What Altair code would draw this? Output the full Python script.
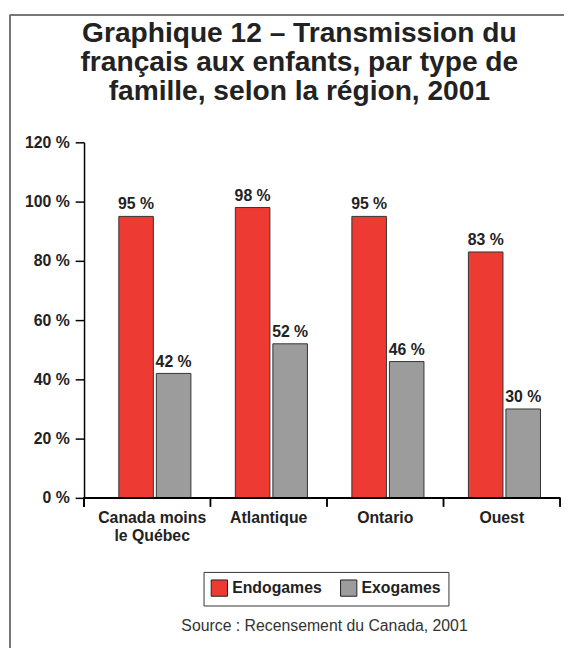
import altair as alt
import pandas as pd

regions = ["Canada moins le Québec", "Atlantique", "Ontario", "Ouest"]
types = ["Endogames", "Exogames"]
endogames = [95, 98, 95, 83]
exogames = [42, 52, 46, 30]
y_ticks = [0, 20, 40, 60, 80, 100, 120]
title_lines = ["Graphique 12 – Transmission du",
               "français aux enfants, par type de",
               "famille, selon la région, 2001"]
source = "Source : Recensement du Canada, 2001"
colors = ["#ED3A33", "#9C9C9C"]

rows = []
for i, r in enumerate(regions):
    rows.append({"region": r, "type": types[0], "value": endogames[i], "label": f"{endogames[i]} %"})
    rows.append({"region": r, "type": types[1], "value": exogames[i], "label": f"{exogames[i]} %"})
df = pd.DataFrame(rows)

W, H = 472, 360
FONT = "Liberation Sans"
TXT = "#222222"


def make_x(**kw):
    return alt.X(
        "region:N", sort=regions,
        scale=alt.Scale(paddingInner=0, paddingOuter=0),
        axis=alt.Axis(
            title=source, labelAngle=0, ticks=False, domain=False,
            labelExpr="datum.label == 'Canada moins le Québec' ? ['Canada moins', 'le Québec'] : datum.label",
            labelFont=FONT, labelFontSize=16, labelFontWeight="bold", labelColor=TXT,
            labelPadding=12, labelBaseline="top", labelLineHeight=18,
            titleFont=FONT, titleFontSize=16, titleFontWeight="normal", titleColor="#333333",
            titleX=233, titleY=134, titleAlign="center", titleBaseline="alphabetic",
        ),
        **kw,
    )


xoff = alt.XOffset("type:N", sort=types,
                   scale=alt.Scale(paddingInner=0.0789, paddingOuter=0.592, align=0.56))
y = alt.Y("value:Q", scale=alt.Scale(domain=[0, 120], nice=False),
          axis=alt.Axis(values=y_ticks, title=None, labelExpr="datum.value + ' %'",
                        offset=10, grid=False, domainColor="#000000", domainWidth=1.5,
                        tickColor="#000000", tickWidth=1.5, tickSize=9, labelPadding=6,
                        labelFont=FONT, labelFontSize=16, labelFontWeight="bold",
                        labelColor=TXT))

base = alt.Chart(df)

bars = base.mark_bar(stroke="#333333", strokeWidth=1).encode(
    x=make_x(), xOffset=xoff, y=y,
    color=alt.Color("type:N", sort=types, scale=alt.Scale(domain=types, range=colors),
                    legend=alt.Legend(title=None, orient="none", legendX=111, legendY=435,
                                      direction="horizontal", strokeColor="#333333",
                                      fillColor="white", padding=7, symbolType="square",
                                      symbolSize=272, symbolStrokeColor="#222222",
                                      symbolStrokeWidth=1, labelFont=FONT, labelFontSize=16,
                                      labelFontWeight="bold", labelColor=TXT,
                                      columnPadding=16, labelOffset=4)),
)

labels = base.mark_text(dy=-7, baseline="alphabetic", font=FONT, fontSize=16,
                        fontWeight="bold", color=TXT).encode(
    x=make_x(), xOffset=xoff, y=y, text="label:N")

tick_rules = base.mark_rule(color="#000000", strokeWidth=1.5).encode(
    x=make_x(bandPosition=1), y=alt.value(H), y2=alt.value(H + 9))

baseline = base.mark_rule(color="#000000", strokeWidth=1.5).encode(
    x=alt.value(-10), x2=alt.value(W), y=alt.value(H))
y_ext = base.mark_rule(color="#000000", strokeWidth=1.5).encode(
    x=alt.value(-10), y=alt.value(H), y2=alt.value(H + 9))

frame_left = base.mark_rule(color="#777777", strokeWidth=1).encode(
    x=alt.value(-85), y=alt.value(-129), y2=alt.value(H + 200))
frame_top = base.mark_rule(color="#777777", strokeWidth=1).encode(
    x=alt.value(-85), x2=alt.value(W + 100), y=alt.value(-129))

chart = alt.layer(frame_left, frame_top, bars, labels, tick_rules, baseline, y_ext).properties(
    width=W, height=H,
    title=alt.TitleParams(text=title_lines, font=FONT, fontSize=28.5, fontWeight="bold",
                          color=TXT, anchor="middle", dx=-28, offset=0, dy=92,
                          lineHeight=29.5),
    padding={"left": 87, "top": 132, "right": 4, "bottom": 148},
    autosize=alt.AutoSizeParams(type="none"),
    background="white",
).configure_view(strokeWidth=0)

chart.save("out.html", embed_options={"renderer": "svg", "actions": False})
